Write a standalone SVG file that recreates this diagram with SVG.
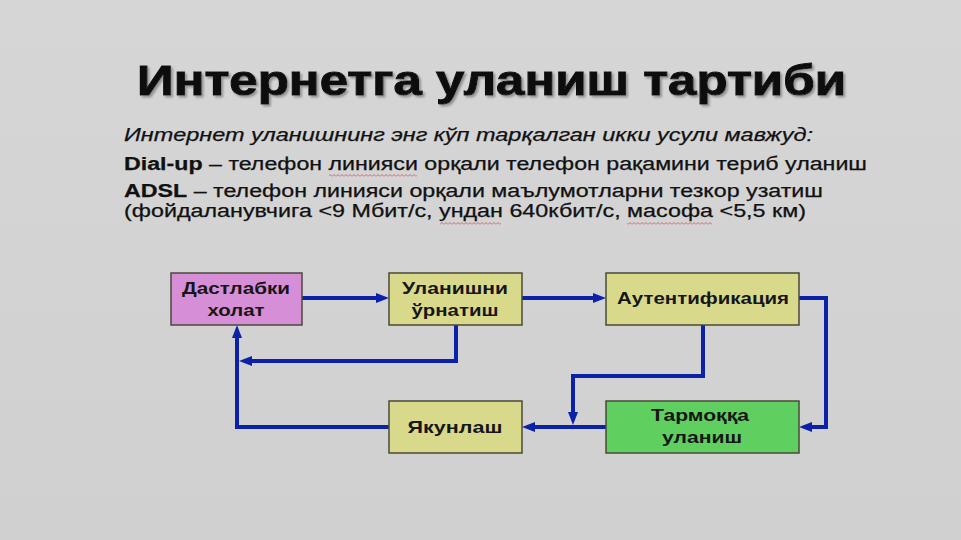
<svg xmlns="http://www.w3.org/2000/svg" width="961" height="540" viewBox="0 0 961 540">
  <defs>
    <linearGradient id="bg" x1="0" y1="0" x2="0" y2="1">
      <stop offset="0" stop-color="#d6d6d6"/>
      <stop offset="1" stop-color="#d0d0d0"/>
    </linearGradient>
    <filter id="shadow" x="-5%" y="-20%" width="110%" height="140%">
      <feDropShadow dx="2" dy="2" stdDeviation="0.8" flood-color="#8a8a8a" flood-opacity="0.9"/>
    </filter>
    <marker id="arr" markerUnits="userSpaceOnUse" markerWidth="13" markerHeight="11" refX="0" refY="5" orient="auto">
      <path d="M0,0 L13,5 L0,10 z" fill="#0b22a8"/>
    </marker>
    <pattern id="wave" patternUnits="userSpaceOnUse" width="4" height="3">
      <path d="M0,2.5 L2,0.5 L4,2.5" fill="none" stroke="#d05050" stroke-width="0.8"/>
    </pattern>
  </defs>
  <style>
    .line { font-family: "Liberation Sans", Arial, sans-serif; font-size: 18px; fill: #111111; stroke: #111111; stroke-width: 0.25; }
    .b { font-weight: bold; }
    .node rect { stroke: #4a4a3a; stroke-width: 1.5; }
    .node text { font-family: "Liberation Sans", Arial, sans-serif; font-size: 17px; font-weight: bold; fill: #161616; text-anchor: middle; }
    .conn path { fill: none; stroke: #0b22a8; stroke-width: 4; stroke-linejoin: miter; }
    .title { font-family: "Liberation Sans", Arial, sans-serif; font-size: 42px; font-weight: bold; fill: #111111; stroke: #111111; stroke-width: 1; }
  </style>

  <rect x="0" y="0" width="961" height="540" fill="url(#bg)"/>

  <!-- Title -->
  <text class="title" x="137" y="95" textLength="709" lengthAdjust="spacingAndGlyphs" filter="url(#shadow)">Интернетга уланиш тартиби</text>

  <!-- Body text -->
  <text class="line" x="124" y="141" font-style="italic" textLength="689" lengthAdjust="spacingAndGlyphs">Интернет уланишнинг энг кўп тарқалган икки усули мавжуд:</text>
  <text class="line" x="124" y="170" textLength="743" lengthAdjust="spacingAndGlyphs"><tspan class="b">Dial-up</tspan> – телефон линияси  орқали телефон рақамини териб уланиш</text>
  <text class="line" x="124" y="197" textLength="699" lengthAdjust="spacingAndGlyphs"><tspan class="b">ADSL</tspan> – телефон линияси орқали маълумотларни тезкор узатиш</text>
  <text class="line" x="124" y="217" textLength="682" lengthAdjust="spacingAndGlyphs">(фойдаланувчига &lt;9 Мбит/с, ундан 640кбит/с, масофа &lt;5,5 км)</text>

  <!-- spell-check squiggles -->
  <rect x="329" y="174" width="88" height="3" fill="url(#wave)"/>
  <rect x="440" y="222" width="61" height="3" fill="url(#wave)"/>
  <rect x="627" y="222" width="85" height="3" fill="url(#wave)"/>

  <!-- Connectors -->
  <g id="connectors" class="conn">
    <path d="M302,298 H376" marker-end="url(#arr)"/>
    <path d="M522,298 H593" marker-end="url(#arr)"/>
    <path d="M799,298 H826 V427 H812" marker-end="url(#arr)"/>
    <path d="M456,325 V361 H252" marker-end="url(#arr)"/>
    <path d="M703,325 V376 H573 V412" marker-end="url(#arr)"/>
    <path d="M606,427 H535" marker-end="url(#arr)"/>
    <path d="M389,427 H237 V338" marker-end="url(#arr)"/>
  </g>

  <!-- Nodes -->
  <g id="node-initial" class="node">
    <rect x="171" y="273" width="131" height="52" fill="#d68ed6"/>
    <text x="236" y="294" textLength="108" lengthAdjust="spacingAndGlyphs">Дастлабки</text>
    <text x="236" y="316" textLength="57" lengthAdjust="spacingAndGlyphs">холат</text>
  </g>
  <g id="node-setup" class="node">
    <rect x="389" y="273" width="133" height="52" fill="#d9d98c"/>
    <text x="455" y="294" textLength="106" lengthAdjust="spacingAndGlyphs">Уланишни</text>
    <text x="455" y="316" textLength="87" lengthAdjust="spacingAndGlyphs">ўрнатиш</text>
  </g>
  <g id="node-auth" class="node">
    <rect x="606" y="273" width="193" height="52" fill="#d9d98c"/>
    <text x="703" y="304" textLength="172" lengthAdjust="spacingAndGlyphs">Аутентификация</text>
  </g>
  <g id="node-finish" class="node">
    <rect x="389" y="401" width="133" height="52" fill="#d9d98c"/>
    <text x="455" y="433" textLength="95" lengthAdjust="spacingAndGlyphs">Якунлаш</text>
  </g>
  <g id="node-connect" class="node">
    <rect x="606" y="401" width="193" height="52" fill="#5fcf5f"/>
    <text x="700" y="421" textLength="98" lengthAdjust="spacingAndGlyphs">Тармоққа</text>
    <text x="702" y="443" textLength="80" lengthAdjust="spacingAndGlyphs">уланиш</text>
  </g>
</svg>
